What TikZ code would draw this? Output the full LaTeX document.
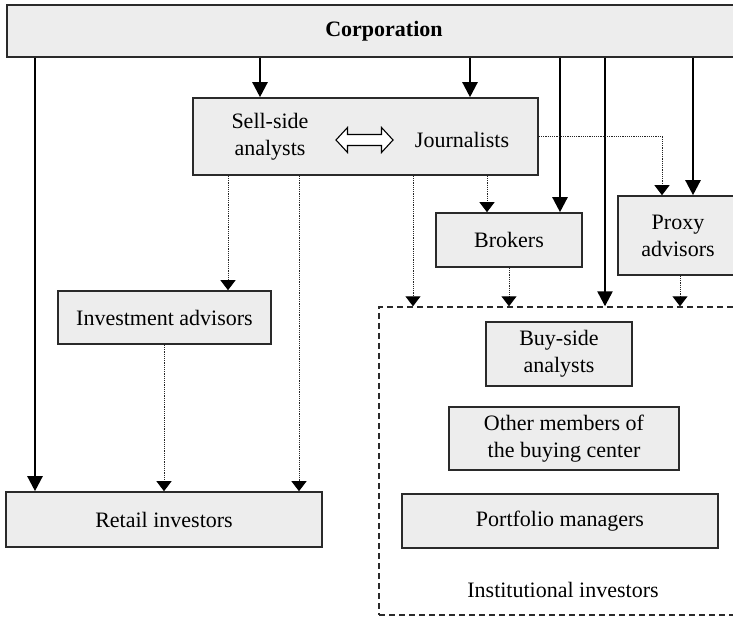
\documentclass[tikz,border=0pt]{standalone}
\usepackage{fontspec}
\setmainfont{Liberation Serif}
\usetikzlibrary{arrows.meta}
\definecolor{boxfill}{HTML}{EDEDED}
\definecolor{boxline}{HTML}{2A2A2A}
\begin{document}
\begin{tikzpicture}[x=1pt,y=-1pt,
  every node/.style={font=\fontsize{22}{27}\selectfont},
  entity/.style={draw=boxline,line width=1.6pt,fill=boxfill,inner sep=0pt,
    align=center,minimum width=#1},
  label/.style={inner sep=0pt,align=center},
  bigflow/.style={line width=2.4pt,-{Triangle[length=15pt,width=15pt]}},
  smallflow/.style={line width=1pt,draw=black!85,dash pattern=on 1.2pt off 1pt,
    -{Triangle[length=10pt,width=15pt,sep=0pt,color=black,fill=black]}},
]
\useasboundingbox (0,0) rectangle (733,617);

% issuer across the top
\node[entity=754,minimum height=52,font=\fontsize{22}{27}\selectfont\bfseries]
  (corp) at (384,31) {Corporation};

% information intermediaries
\node[entity=345,minimum height=77] (ssj) at (365.5,136.5) {};
\node[label] (ssa) at (270,137) {Sell-side\\analysts};
\node[label] (jour) at (462,140) {Journalists};
\begin{scope}[shift={(364.5,140)}]
  \draw[line width=1.1pt,fill=white]
    (-28.5,0) -- (-17,12.5) -- (-17,5.5) -- (17,5.5) -- (17,12.5) -- (28.5,0)
    -- (17,-12.5) -- (17,-5.5) -- (-17,-5.5) -- (-17,-12.5) -- cycle;
\end{scope}

\node[entity=146,minimum height=54] (brok) at (509,240) {Brokers};
\node[entity=120,minimum height=79] (proxy) at (678,235.5) {Proxy\\advisors};
\node[entity=213,minimum height=53] (inva) at (164.5,317.5) {Investment advisors};

% investors
\node[entity=316,minimum height=55] (retail) at (164,519.5) {Retail investors};
\node[draw=boxline,line width=1.4pt,dash pattern=on 6pt off 4pt,
  minimum width=368,minimum height=308,inner sep=0pt] (inst) at (563,461) {};
\node[entity=146,minimum height=64] (buy) at (559,354) {Buy-side\\analysts};
\node[entity=230,minimum height=63] (other) at (564,438.5)
  {Other members of\\the buying center};
\node[entity=316,minimum height=54] (port) at (560,521) {Portfolio managers};
\node[label] (instlab) at (563,590) {Institutional investors};

% direct channels from the corporation
\draw[bigflow] (35,0 |- corp.south) -- (35,0 |- retail.north);
\draw[bigflow] (260,0 |- corp.south) -- (260,0 |- ssj.north);
\draw[bigflow] (470,0 |- corp.south) -- (470,0 |- ssj.north);
\draw[bigflow] (560,0 |- corp.south) -- (560,0 |- brok.north);
\draw[bigflow] (605,0 |- corp.south) -- (605,0 |- inst.north);
\draw[bigflow] (693,0 |- corp.south) -- (693,0 |- proxy.north);

% indirect channels through intermediaries
\draw[smallflow] (228,0 |- ssj.south) -- (228,0 |- inva.north);
\draw[smallflow] (299,0 |- ssj.south) -- (299,0 |- retail.north);
\draw[smallflow] (413,0 |- ssj.south) -- (413,0 |- inst.north);
\draw[smallflow] (487,0 |- ssj.south) -- (487,0 |- brok.north);
\draw[smallflow] (ssj.east) -| (662,0 |- proxy.north);
\draw[smallflow] (164,0 |- inva.south) -- (164,0 |- retail.north);
\draw[smallflow] (brok.south) -- (509,0 |- inst.north);
\draw[smallflow] (680,0 |- proxy.south) -- (680,0 |- inst.north);
\end{tikzpicture}
\end{document}
